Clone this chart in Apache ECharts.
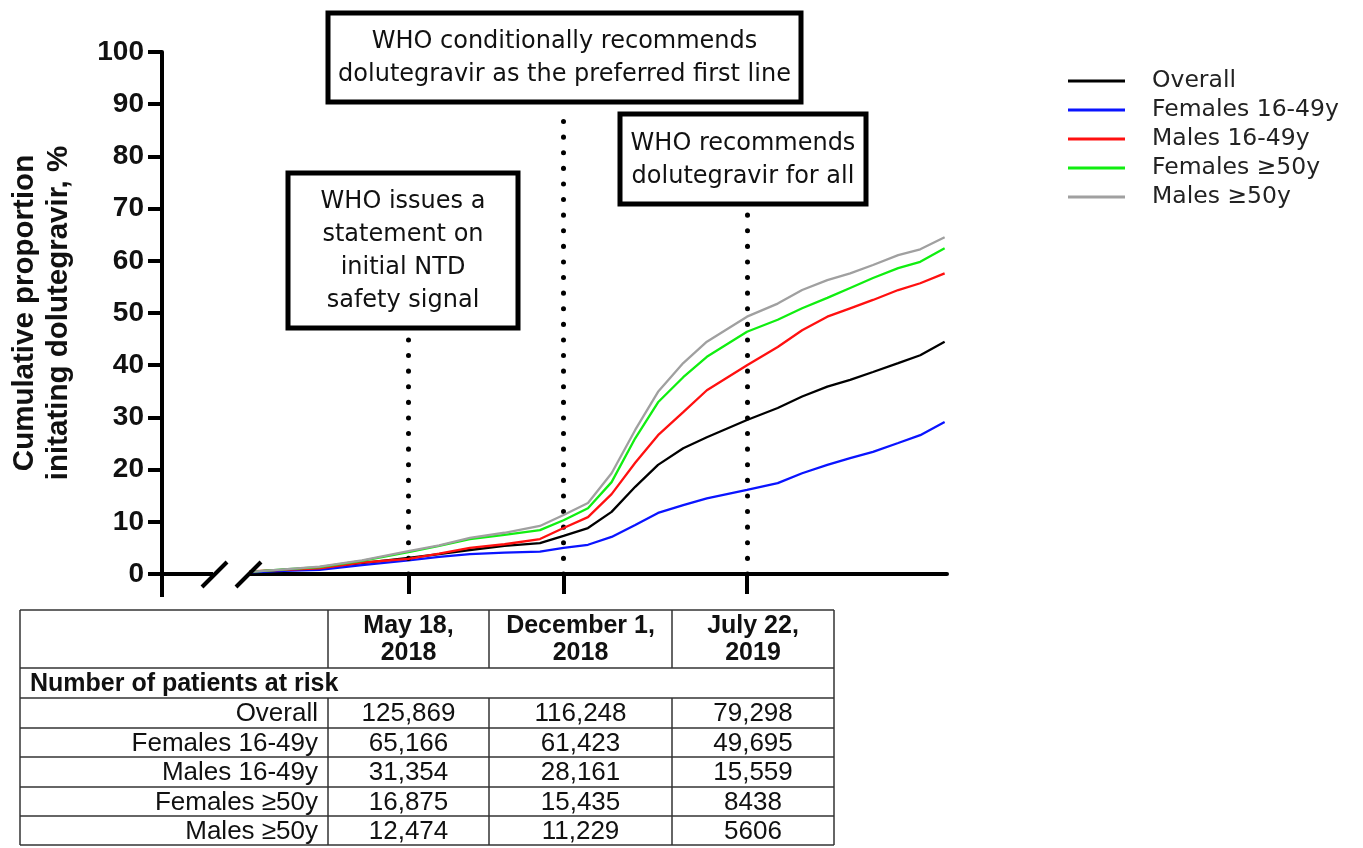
<!DOCTYPE html>
<html>
<head>
<meta charset="utf-8">
<script src="https://cdn.jsdelivr.net/npm/echarts@6/dist/echarts.min.js"></script>
<style>
  html, body { margin: 0; padding: 0; background: #fff; }
  #chart { width: 1363px; height: 848px; }
</style>
</head>
<body>
<div id="chart"></div>
<script>
// sampled dates along the curves
const dates = ['2017-10-28', '2017-12-11', '2018-01-25', '2018-03-20', '2018-05-18', '2018-06-26',
  '2018-08-04', '2018-09-17', '2018-11-01', '2018-12-01', '2019-01-01', '2019-01-31', '2019-03-02',
  '2019-03-31', '2019-05-02', '2019-06-01', '2019-07-22', '2019-08-30', '2019-09-30', '2019-11-01',
  '2019-11-30', '2019-12-29', '2020-01-30', '2020-02-27', '2020-03-29'];

const overall    = [0.4, 0.8, 1.2, 2.1, 3.1, 3.8, 4.6, 5.4, 5.9, 7.3, 8.8, 11.9, 16.7, 20.9, 24.1, 26.2, 29.5, 31.8, 34.0, 35.9, 37.2, 38.7, 40.4, 41.9, 44.5];
const female1649 = [0.3, 0.6, 0.8, 1.7, 2.6, 3.3, 3.8, 4.1, 4.3, 5.0, 5.6, 7.1, 9.4, 11.7, 13.2, 14.5, 16.1, 17.4, 19.3, 20.9, 22.2, 23.4, 25.1, 26.6, 29.1];
const male1649   = [0.5, 0.8, 1.1, 2.2, 2.9, 3.9, 5.0, 5.7, 6.7, 8.8, 10.9, 15.3, 21.3, 26.6, 31.0, 35.2, 40.0, 43.5, 46.7, 49.3, 50.9, 52.5, 54.4, 55.7, 57.6];
const female50   = [0.4, 0.9, 1.3, 2.5, 4.2, 5.4, 6.7, 7.5, 8.4, 10.3, 12.6, 17.6, 26.0, 32.9, 37.7, 41.6, 46.4, 48.7, 50.9, 52.9, 54.8, 56.7, 58.6, 59.8, 62.4];
const male50     = [0.4, 0.9, 1.4, 2.6, 4.4, 5.5, 6.9, 7.9, 9.2, 11.3, 13.6, 19.3, 27.6, 34.9, 40.4, 44.5, 49.3, 51.8, 54.4, 56.3, 57.6, 59.2, 61.1, 62.2, 64.5];

const seriesNames = ['Overall', 'Females 16-49y', 'Males 16-49y', 'Females ≥50y', 'Males ≥50y'];
const seriesColors = ['#000000', '#0a14ff', '#ff1010', '#10ee10', '#a0a0a0'];

const yTicks = [0, 10, 20, 30, 40, 50, 60, 70, 80, 90, 100];

// WHO events (vertical dotted lines)
const eventDates = ['2018-05-18', '2018-12-01', '2019-07-22'];
const eventTexts = [
  'WHO issues a\nstatement on\ninitial NTD\nsafety signal',
  'WHO conditionally recommends\ndolutegravir as the preferred first line',
  'WHO recommends\ndolutegravir for all'
];

// numbers at risk table
const tableHeads = ['May 18,\n2018', 'December 1,\n2018', 'July 22,\n2019'];
const riskMay18 = [125869, 65166, 31354, 16875, 12474];
const riskDec1  = [116248, 61423, 28161, 15435, 11229];
const riskJul22 = [79298, 49695, 15559, 8438, 5606];

const ts = d => Date.parse(d);
const fmt = n => n >= 10000 ? n.toLocaleString('en-US') : String(n);

let mychart = echarts.init(document.getElementById('chart'));

const allSeries = [overall, female1649, male1649, female50, male50].map((vals, i) => ({
  name: seriesNames[i],
  type: 'line',
  data: dates.map((d, k) => [ts(d), vals[k]]),
  symbol: 'none',
  color: seriesColors[i],
  lineStyle: { width: 2.3 },
  z: 3 + i
}));

// dotted event lines, attached to an empty series
allSeries.push({
  type: 'line',
  data: [],
  silent: true,
  markLine: {
    symbol: 'none',
    silent: true,
    label: { show: false },
    lineStyle: { color: '#000', type: [0.1, 15.5], cap: 'round', width: 5 },
    data: [
      [{ coord: [ts(eventDates[0]), 0] }, { coord: [ts(eventDates[0]), 46.8] }],
      [{ coord: [ts(eventDates[1]), 0] }, { coord: [ts(eventDates[1]), 88.5] }],
      [{ coord: [ts(eventDates[2]), 0] }, { coord: [ts(eventDates[2]), 69.2] }]
    ]
  }
});

// --- graphic bits: axis break, boxes, table
const g = [];
// y axis runs a bit below zero
g.push({ type: 'line', shape: { x1: 162, y1: 572, x2: 162, y2: 597 }, style: { stroke: '#000', lineWidth: 4 }, z: 100 });
// break in x axis
g.push({ type: 'rect', shape: { x: 213, y: 569, width: 35, height: 10 }, style: { fill: '#fff' }, z: 100 });
g.push({ type: 'line', shape: { x1: 202, y1: 587, x2: 227, y2: 562 }, style: { stroke: '#000', lineWidth: 4 }, z: 101 });
g.push({ type: 'line', shape: { x1: 236, y1: 587, x2: 261, y2: 562 }, style: { stroke: '#000', lineWidth: 4 }, z: 101 });

// annotation boxes
const boxes = [
  { x: 288, y: 173, w: 230, h: 155 },
  { x: 328, y: 13, w: 473, h: 89 },
  { x: 620, y: 114, w: 246, h: 90 }
];
boxes.forEach((b, i) => {
  g.push({ type: 'rect', shape: { x: b.x, y: b.y, width: b.w, height: b.h },
    style: { fill: '#fff', stroke: '#000', lineWidth: 5 }, z: 110 });
  g.push({ type: 'text', x: b.x + b.w / 2, y: b.y + b.h / 2 + 1, z: 111,
    style: { text: eventTexts[i], align: 'center', verticalAlign: 'middle',
      fontFamily: 'DejaVu Sans', fontSize: 24, lineHeight: 33, fill: '#111' } });
});

// table
const colX = [20, 328, 489, 672, 834];
const rowY = [610, 668, 698, 728, 757, 787, 816, 845];
const tl = { stroke: '#333', lineWidth: 1.5 };
rowY.forEach(y => g.push({ type: 'line', shape: { x1: colX[0], y1: y, x2: colX[4], y2: y }, style: tl, z: 100 }));
[colX[0], colX[4]].forEach(x => g.push({ type: 'line', shape: { x1: x, y1: rowY[0], x2: x, y2: rowY[7] }, style: tl, z: 100 }));
[colX[1], colX[2], colX[3]].forEach(x => {
  g.push({ type: 'line', shape: { x1: x, y1: rowY[0], x2: x, y2: rowY[1] }, style: tl, z: 100 });
  g.push({ type: 'line', shape: { x1: x, y1: rowY[2], x2: x, y2: rowY[7] }, style: tl, z: 100 });
});
const tFont = 'Liberation Sans';
tableHeads.forEach((h, c) => {
  g.push({ type: 'text', x: (colX[c + 1] + colX[c + 2]) / 2, y: (rowY[0] + rowY[1]) / 2 + 1, z: 101,
    style: { text: h, align: 'center', verticalAlign: 'middle', fontFamily: tFont, fontWeight: 'bold',
      fontSize: 25, lineHeight: 27, fill: '#111' } });
});
g.push({ type: 'text', x: 30, y: (rowY[1] + rowY[2]) / 2 + 1, z: 101,
  style: { text: 'Number of patients at risk', align: 'left', verticalAlign: 'middle', fontFamily: tFont,
    fontWeight: 'bold', fontSize: 25, fill: '#111' } });
const riskCols = [riskMay18, riskDec1, riskJul22];
seriesNames.forEach((name, r) => {
  const cy = (rowY[r + 2] + rowY[r + 3]) / 2 + 1;
  g.push({ type: 'text', x: 318, y: cy, z: 101,
    style: { text: name, align: 'right', verticalAlign: 'middle', fontFamily: tFont, fontSize: 26, fill: '#111' } });
  riskCols.forEach((col, c) => {
    g.push({ type: 'text', x: (colX[c + 1] + colX[c + 2]) / 2, y: cy, z: 101,
      style: { text: fmt(col[r]), align: 'center', verticalAlign: 'middle', fontFamily: tFont, fontSize: 26, fill: '#111' } });
  });
});

let option = {
  animation: false,
  backgroundColor: '#fff',
  grid: { left: 162, right: 416, top: 52, bottom: 274, containLabel: false, outerBoundsMode: 'none' },
  legend: {
    orient: 'vertical',
    left: 1063,
    top: 62,
    icon: 'rect',
    itemWidth: 57,
    itemHeight: 3,
    itemGap: 1,
    data: seriesNames,
    textStyle: { fontFamily: 'DejaVu Sans', fontSize: 23.5, lineHeight: 28, color: '#222', padding: [0, 0, 0, 22] }
  },
  xAxis: {
    type: 'value',
    min: ts('2017-07-09'),
    max: ts('2020-04-01'),
    axisLine: { show: true, lineStyle: { color: '#000', width: 4 } },
    axisTick: { show: true, length: 20, customValues: eventDates.map(ts), lineStyle: { color: '#000', width: 4 } },
    axisLabel: { show: false },
    splitLine: { show: false }
  },
  yAxis: {
    type: 'value',
    min: 0,
    max: 100,
    interval: 10,
    name: 'Cumulative proportion\ninitating dolutegravir, %',
    nameLocation: 'middle',
    nameGap: 86,
    nameTextStyle: { fontFamily: 'Liberation Sans', fontWeight: 'bold', fontSize: 29.5, lineHeight: 34, color: '#111' },
    axisLine: { show: true, lineStyle: { color: '#000', width: 4 } },
    axisTick: { show: true, length: 14, lineStyle: { color: '#000', width: 4 } },
    axisLabel: { color: '#111', fontFamily: 'Liberation Sans', fontWeight: 'bold', fontSize: 28, margin: 18,
      customValues: yTicks },
    splitLine: { show: false }
  },
  series: allSeries,
  graphic: g
};

mychart.setOption(option);
window.addEventListener('resize', function () {
  mychart.resize();
});
</script>
</body>
</html>
